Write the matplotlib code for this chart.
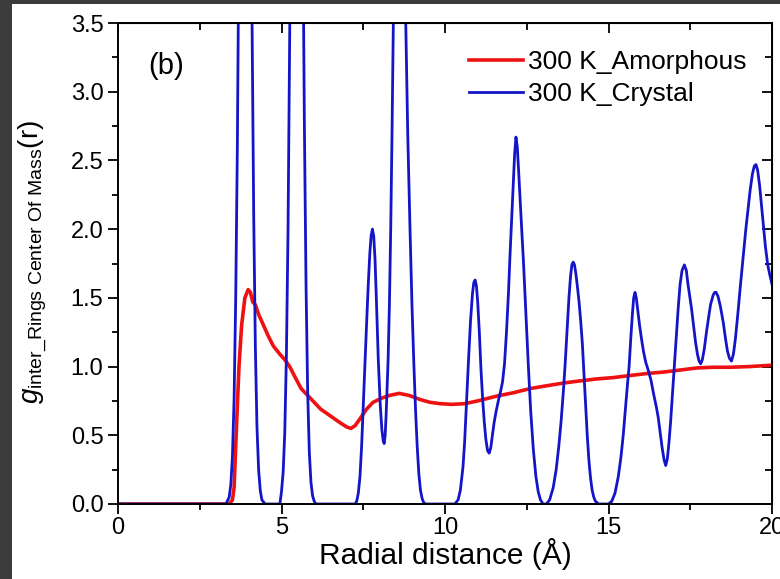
import matplotlib
matplotlib.use('Agg')
import matplotlib.pyplot as plt
from matplotlib.ticker import MultipleLocator
from matplotlib.patches import Rectangle

plt.rcParams['font.family'] = ['Liberation Sans', 'DejaVu Sans']
plt.rcParams['mathtext.fontset'] = 'custom'
plt.rcParams['mathtext.rm'] = 'Liberation Sans'
plt.rcParams['mathtext.it'] = 'Liberation Sans:italic'

# ---- data ----
amorphous_r = [0.0, 3.4, 3.5, 3.55, 3.63, 3.7, 3.78, 3.88, 3.98, 4.05, 4.12, 4.2, 4.3,
               4.45, 4.6, 4.75, 4.95, 5.1, 5.25, 5.4, 5.6, 5.8, 6.0, 6.2, 6.5, 6.8,
               7.0, 7.12, 7.25, 7.4, 7.6, 7.8, 8.06, 8.3, 8.6, 8.9, 9.24, 9.54, 9.85,
               10.2, 10.6, 11.0, 11.58, 12.1, 12.6, 13.1, 13.62, 14.1, 14.64, 15.15,
               15.66, 16.2, 16.68, 17.2, 17.7, 18.2, 18.72, 19.3, 20.0]
amorphous_g = [0.0, 0.0, 0.03, 0.12, 0.6, 1.0, 1.3, 1.5, 1.56, 1.54, 1.47, 1.45, 1.38,
               1.3, 1.22, 1.15, 1.09, 1.05, 1.0, 0.93, 0.84, 0.79, 0.74, 0.69, 0.64, 0.59,
               0.56, 0.55, 0.57, 0.62, 0.69, 0.74, 0.77, 0.79, 0.805, 0.79, 0.76, 0.74, 0.73,
               0.725, 0.73, 0.75, 0.785, 0.81, 0.84, 0.86, 0.88, 0.895, 0.91, 0.92,
               0.935, 0.95, 0.96, 0.975, 0.99, 0.995, 0.995, 1.0, 1.01]

crystal_r = [0.0, 3.3, 3.4, 3.45, 3.5, 3.55, 3.6, 3.65, 3.7, 3.8, 3.9, 4.0, 4.05, 4.1,
             4.15, 4.2, 4.25, 4.3, 4.35, 4.4, 4.5,
             4.95, 5.0, 5.05, 5.1, 5.15, 5.2, 5.25, 5.3, 5.4, 5.47, 5.55, 5.6, 5.65,
             5.7, 5.75, 5.8, 5.85, 5.9, 5.95, 6.0, 6.05,
             7.25, 7.3, 7.35, 7.4, 7.45, 7.5, 7.55, 7.6, 7.65, 7.7, 7.74, 7.78, 7.82,
             7.86, 7.9, 7.96, 8.02, 8.07, 8.11, 8.14, 8.17, 8.2, 8.23, 8.26, 8.3, 8.34,
             8.38, 8.42, 8.5, 8.61, 8.7, 8.8, 8.86, 8.93, 8.99, 9.05, 9.1, 9.15, 9.2,
             9.25, 9.3, 9.35, 9.4,
             10.3, 10.4, 10.47, 10.55, 10.6, 10.66, 10.72, 10.78, 10.84, 10.88, 10.92,
             10.96, 11.0, 11.05, 11.1, 11.15, 11.2, 11.25, 11.3, 11.35, 11.4, 11.45,
             11.5, 11.56, 11.63, 11.7, 11.76, 11.82, 11.88, 11.94, 11.99, 12.04, 12.09,
             12.13, 12.17, 12.21, 12.25, 12.3, 12.35, 12.4, 12.47, 12.55, 12.62, 12.7,
             12.78, 12.85, 12.92, 13.0,
             13.1, 13.2, 13.31, 13.4, 13.48, 13.55, 13.62, 13.67, 13.73, 13.79, 13.84,
             13.88, 13.92, 13.96, 14.0, 14.05, 14.1, 14.15, 14.2, 14.25, 14.3, 14.35,
             14.4, 14.45, 14.5, 14.55, 14.6, 14.7,
             15.0, 15.1, 15.2, 15.3, 15.38, 15.45, 15.52, 15.58, 15.63, 15.68, 15.73,
             15.77, 15.81, 15.85, 15.9, 15.95, 16.01, 16.07, 16.14, 16.22, 16.3, 16.38,
             16.46, 16.52, 16.58, 16.64, 16.7, 16.75, 16.8, 16.85, 16.9, 16.95, 17.01,
             17.07, 17.13, 17.19, 17.25, 17.32, 17.38, 17.43, 17.49, 17.54, 17.6, 17.66,
             17.72, 17.77, 17.82, 17.87, 17.93, 17.99, 18.05, 18.12, 18.2, 18.25, 18.29,
             18.35, 18.42, 18.51, 18.58, 18.64, 18.7, 18.76, 18.82, 18.88, 18.95, 19.03,
             19.12, 19.2, 19.27, 19.33, 19.4, 19.46, 19.51, 19.56, 19.62, 19.68, 19.73,
             19.8, 19.87, 19.93, 20.0]
crystal_g = [0.0, 0.0, 0.05, 0.14, 0.35, 0.76, 1.5, 2.6, 4.2, 7.6, 9.0, 6.9, 5.2, 3.5,
             2.1, 1.15, 0.56, 0.25, 0.1, 0.03, 0.0,
             0.0, 0.09, 0.23, 0.52, 1.08, 2.0, 3.35, 5.0, 8.2, 9.0, 7.7, 6.1, 4.3,
             2.76, 1.6, 0.82, 0.38, 0.16, 0.06, 0.02, 0.0,
             0.0, 0.02, 0.08, 0.2, 0.42, 0.72, 1.0, 1.3, 1.58, 1.82, 1.95, 2.0, 1.95,
             1.78, 1.5, 1.05, 0.72, 0.54, 0.46, 0.44, 0.5, 0.65, 0.85, 1.05, 1.45, 2.0,
             2.7, 3.5, 4.6, 5.0, 4.7, 3.5, 2.7, 2.0, 1.45, 1.0, 0.68, 0.42, 0.22,
             0.1, 0.04, 0.01, 0.0,
             0.0, 0.03, 0.1, 0.27, 0.45, 0.75, 1.05, 1.33, 1.53, 1.61, 1.63,
             1.59, 1.47, 1.25, 0.98, 0.77, 0.6, 0.47, 0.39, 0.37, 0.41, 0.5,
             0.59, 0.67, 0.75, 0.82, 0.89, 1.02, 1.25, 1.53, 1.82, 2.08, 2.33,
             2.55, 2.67, 2.6, 2.43, 2.2, 1.98, 1.76, 1.4, 1.0, 0.68, 0.4,
             0.2, 0.09, 0.03, 0.0,
             0.0, 0.03, 0.12, 0.25, 0.42, 0.6, 0.82, 1.0, 1.25, 1.5, 1.66,
             1.74, 1.76, 1.74, 1.68, 1.58, 1.47, 1.33, 1.17, 0.95, 0.72, 0.5,
             0.32, 0.19, 0.1, 0.05, 0.02, 0.0,
             0.0, 0.02, 0.08, 0.2, 0.34, 0.5, 0.7, 0.87, 1.0, 1.2, 1.38,
             1.5, 1.54, 1.5, 1.4, 1.3, 1.2, 1.11, 1.03, 0.97, 0.9, 0.8,
             0.71, 0.63, 0.52, 0.41, 0.32, 0.28, 0.33, 0.45, 0.6, 0.78, 1.0,
             1.22, 1.42, 1.6, 1.7, 1.74, 1.7, 1.6, 1.5, 1.42, 1.3, 1.18,
             1.09, 1.04, 1.02, 1.05, 1.13, 1.24, 1.34, 1.45, 1.52, 1.54, 1.54,
             1.51, 1.44, 1.32, 1.2, 1.11, 1.06, 1.04, 1.09, 1.2, 1.37, 1.58,
             1.8, 2.0, 2.15, 2.28, 2.4, 2.46, 2.47, 2.43, 2.32, 2.17, 2.04,
             1.87, 1.74, 1.67, 1.6]

labels = ['300 K_Amorphous', '300 K_Crystal']
x_ticks = [0, 5, 10, 15, 20]
y_ticks = [0.0, 0.5, 1.0, 1.5, 2.0, 2.5, 3.0, 3.5]

RED = '#ee1111'
BLUE = '#1414c8'

fig = plt.figure(figsize=(7.8, 5.79), dpi=100, facecolor='#3b3b3b')
fig.patches.append(Rectangle((12 / 780, 0), 1 - 12 / 780, 575 / 579,
                             transform=fig.transFigure, facecolor='white',
                             edgecolor='none', zorder=-10))

ax = fig.add_axes([118 / 780, 75 / 579, 654 / 780, 481 / 579])
ax.plot(amorphous_r, amorphous_g, color=RED, lw=2.6, label=labels[0],
        solid_joinstyle='round')
ax.plot(crystal_r, crystal_g, color=BLUE, lw=2.0, label=labels[1],
        solid_joinstyle='round')

ax.set_xlim(0, 20)
ax.set_ylim(0, 3.5)
ax.set_xticks(x_ticks)
ax.set_yticks(y_ticks)
ax.set_yticklabels([f'{v:.1f}' for v in y_ticks])
ax.xaxis.set_minor_locator(MultipleLocator(2.5))
ax.yaxis.set_minor_locator(MultipleLocator(0.25))
ax.tick_params(which='both', direction='out', labelsize=17, width=1.3)
ax.tick_params(which='major', length=7)
ax.tick_params(which='minor', length=4)
ax.tick_params(axis='x', which='major', pad=2)
for s in ax.spines.values():
    s.set_linewidth(1.4)

sec_y = ax.secondary_yaxis('right')
sec_y.yaxis.set_major_locator(MultipleLocator(0.5))
sec_y.yaxis.set_minor_locator(MultipleLocator(0.25))
sec_y.tick_params(which='both', direction='in', labelright=False, width=1.3)
sec_y.tick_params(which='major', length=7)
sec_y.tick_params(which='minor', length=5)
sec_x = ax.secondary_xaxis('top')
sec_x.xaxis.set_major_locator(MultipleLocator(5))
sec_x.xaxis.set_minor_locator(MultipleLocator(2.5))
sec_x.tick_params(which='both', direction='in', labeltop=False, width=1.3)
sec_x.tick_params(which='major', length=7)
sec_x.tick_params(which='minor', length=5)

ax.set_xlabel('Radial distance (Å)', fontsize=21.5, labelpad=0)
fig.text(33 / 780, (579 - 262) / 579,
         r'$g_{\mathrm{inter\_Rings\ Center\ Of\ Mass}}$(r)',
         rotation=90, ha='center', va='center', fontsize=20)

ax.text(0.046, 0.91, '(b)', transform=ax.transAxes, fontsize=21,
        ha='left', va='center')

ax.legend(loc='upper left', bbox_to_anchor=(0.536, 0.944), frameon=False,
          fontsize=19, handlelength=2.05, handletextpad=0.2,
          labelspacing=0.32, borderpad=0, borderaxespad=0)

fig.savefig('out.png', dpi=100, facecolor=fig.get_facecolor())
